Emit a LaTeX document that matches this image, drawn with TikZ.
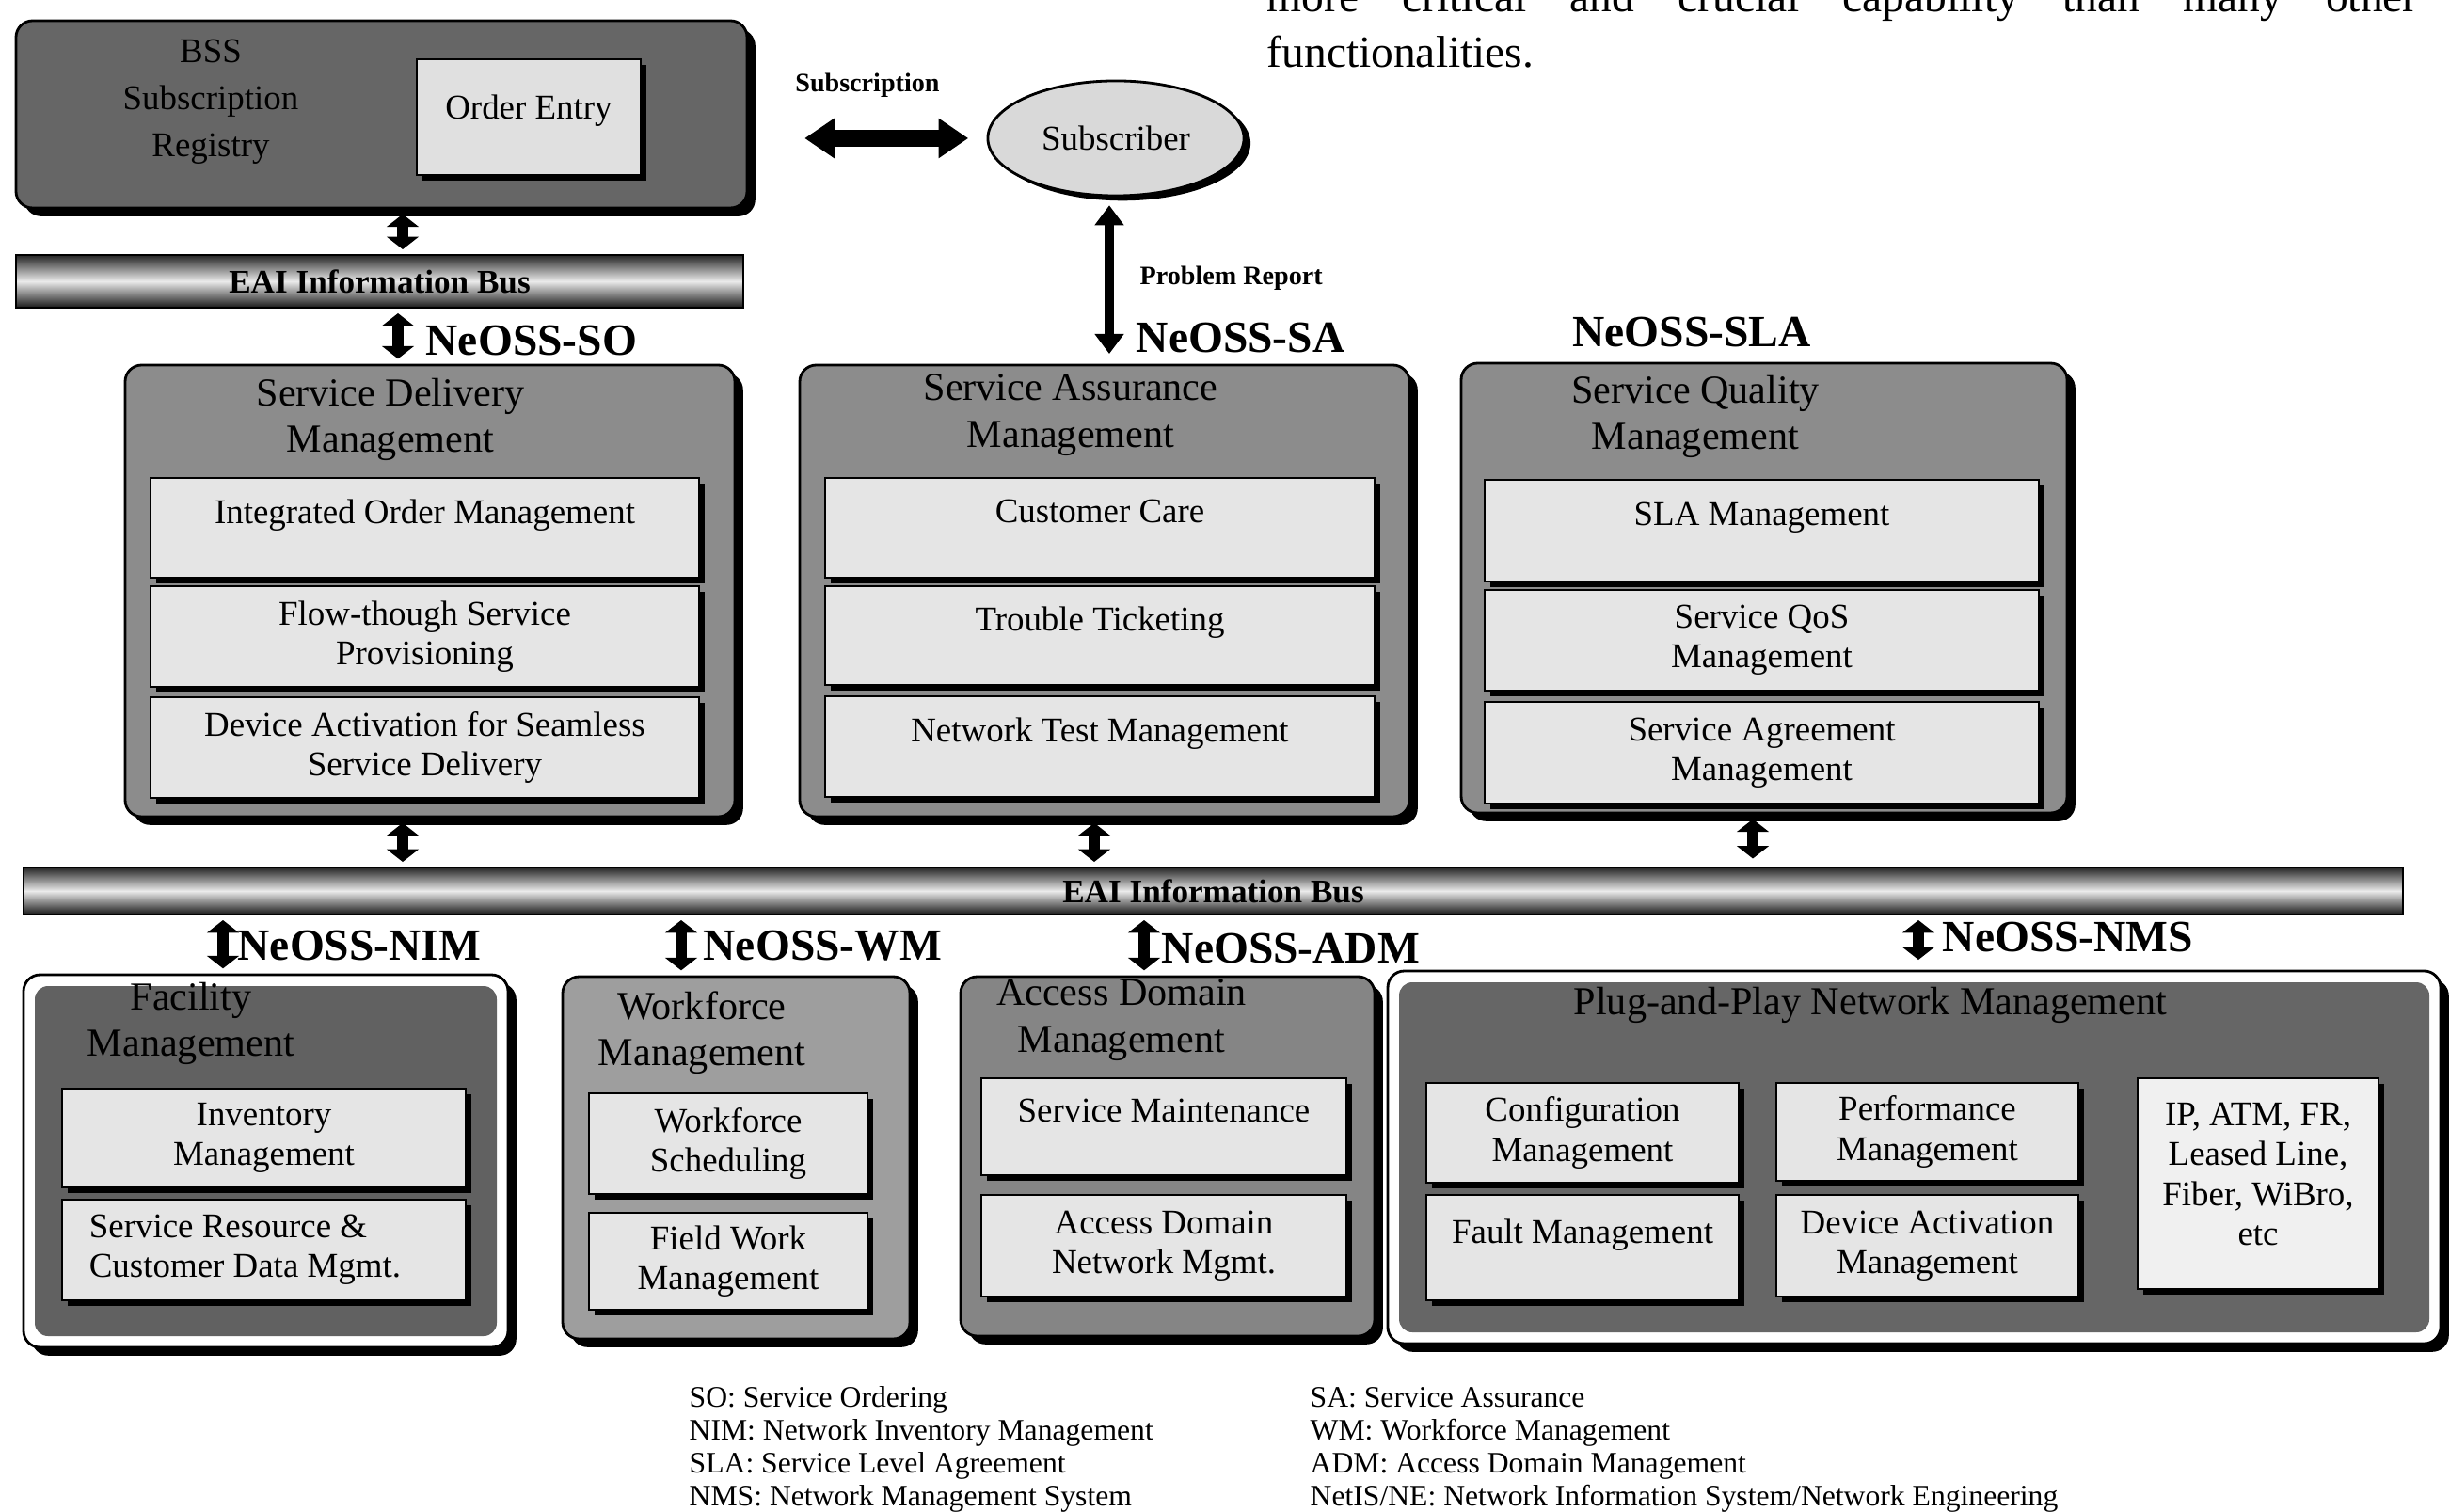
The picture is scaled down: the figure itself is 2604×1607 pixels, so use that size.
\documentclass[tikz,border=0pt]{standalone}
\usepackage{fontspec}
\setmainfont{Liberation Serif}
\usetikzlibrary{positioning,fit,shadows,shapes.geometric,arrows.meta}

\begin{document}
\begin{tikzpicture}[x=0.01cm, y=-0.01cm,
  panel/.style={draw=black, thick, rounded corners=5pt, inner sep=0pt,
    drop shadow={shadow xshift=2.5pt, shadow yshift=-2.5pt, fill=black, opacity=1}},
  subbox/.style={draw=black, fill=black!10, inner sep=0pt,
    drop shadow={shadow xshift=1.8pt, shadow yshift=-1.8pt, fill=black, opacity=1}},
  boxtext/.style={align=center, inner sep=0pt, font=\fontsize{10.5}{12}\selectfont},
  oneline/.style={text depth=10pt},
  paneltitle/.style={align=center, inner sep=0pt, font=\fontsize{12}{14}\selectfont},
  busbar/.style={draw=black, inner sep=0pt, top color=black!85, bottom color=black!90,
    middle color=black!8},
  buslabel/.style={inner sep=0pt, font=\bfseries\fontsize{10}{12}\selectfont},
  neoss/.style={anchor=west, inner sep=0pt, font=\bfseries\fontsize{13.5}{16}\selectfont},
  smalllabel/.style={inner sep=0pt, font=\bfseries\fontsize{8}{10}\selectfont},
  busarrow/.style={{Triangle[length=3.8pt,width=9.5pt]}-{Triangle[length=3.8pt,width=9.5pt]},
    line width=3.5pt, shorten <=1.5pt, shorten >=1.5pt},
  legendline/.style={anchor=base west, inner sep=0pt, font=\fontsize{9}{10}\selectfont}]

  \useasboundingbox (0,0) rectangle (2604,1607);

  % text of the page
  \node[anchor=base west, inner sep=0pt, font=\fontsize{13.5}{16.8}\selectfont] (para1) at (1346,13)
    {\makebox[12.22cm][s]{more critical and crucial capability than many other}};
  \node[anchor=base west, inner sep=0pt, font=\fontsize{13.5}{16.8}\selectfont] (para2) at (1346,72)
    {functionalities.};

  % BSS and subscriber
  \node[panel, fill=black!60, fit={(17,22) (794,221)}] (bss) {};
  \node[paneltitle, font=\fontsize{10.5}{14.2}\selectfont] (bsst) at (224,108) {BSS\\Subscription\\Registry};
  \node[subbox, fill=black!12, fit={(443,63) (681,186)},
    label={[boxtext, text depth=6pt]center:Order Entry}] (order) {};
  \node[ellipse, draw=black, thick, fill=black!15, minimum width=2.72cm, minimum height=1.22cm,
    font=\fontsize{10.5}{12}\selectfont,
    drop shadow={shadow xshift=2pt, shadow yshift=-1.5pt, fill=black, opacity=1}] (subscr) at (1186,147) {Subscriber};
  \node[busbar, fit={(17,271) (790,327)}, label={[buslabel]center:EAI Information Bus}] (bus1) {};

  % service delivery
  \node[panel, fill=black!45, fit={(133,388) (781,868)}] (sdm) {};
  \node[paneltitle] (sdmt) at (415,446) {Service Delivery\\Management};
  \node[subbox, fit={(160,508) (743,614)},
    label={[boxtext, oneline]center:Integrated Order Management}] (iom) {};
  \node[subbox, fit={(160,623) (743,730)},
    label={[boxtext]center:{Flow-though Service\\Provisioning}}] (fsp) {};
  \node[subbox, fit={(160,741) (743,848)},
    label={[boxtext]center:{Device Activation for Seamless\\Service Delivery}}] (das) {};

  % service assurance
  \node[panel, fill=black!45, fit={(850,388) (1498,868)}] (sam) {};
  \node[paneltitle] (samt) at (1138,441) {Service Assurance\\Management};
  \node[subbox, fit={(877,508) (1461,614)},
    label={[boxtext, oneline]center:Customer Care}] (cc) {};
  \node[subbox, fit={(877,623) (1461,728)},
    label={[boxtext, oneline]center:Trouble Ticketing}] (tt) {};
  \node[subbox, fit={(877,740) (1461,847)},
    label={[boxtext, oneline]center:Network Test Management}] (ntm) {};

  % service quality
  \node[panel, fill=black!45, fit={(1553,386) (2197,864)}] (sqm) {};
  \node[paneltitle] (sqmt) at (1802,443) {Service Quality\\Management};
  \node[subbox, fit={(1578,510) (2167,618)},
    label={[boxtext, oneline]center:SLA Management}] (slam) {};
  \node[subbox, fit={(1578,627) (2167,734)},
    label={[boxtext]center:{Service QoS\\Management}}] (qos) {};
  \node[subbox, fit={(1578,746) (2167,854)},
    label={[boxtext]center:{Service Agreement\\Management}}] (sagm) {};

  \node[busbar, fit={(25,922) (2554,972)}, label={[buslabel]center:EAI Information Bus}] (bus2) {};

  % facility
  \node[panel, fill=white, fit={(25,1036) (540,1432)}] (fm) {};
  \node[fill=black!62, rounded corners=4pt, inner sep=0pt, fit={(37,1048) (528,1420)}] (fmin) {};
  \node[paneltitle] (fmt) at (203,1088) {Facility\\Management};
  \node[subbox, fit={(66,1157) (495,1262)},
    label={[boxtext]center:{Inventory\\Management}}] (inv) {};
  \node[subbox, fit={(66,1275) (495,1382)},
    label={[boxtext, align=left, xshift=-0.2cm]center:{Service Resource \&\\Customer Data Mgmt.}}] (srd) {};

  % workforce
  \node[panel, fill=black!38, fit={(598,1038) (967,1423)}] (wfm) {};
  \node[paneltitle] (wfmt) at (746,1098) {Workforce\\Management};
  \node[subbox, fit={(626,1162) (922,1269)},
    label={[boxtext]center:{Workforce\\Scheduling}}] (wfs) {};
  \node[subbox, fit={(626,1289) (922,1392)},
    label={[boxtext]center:{Field Work\\Management}}] (fwm) {};

  % access domain
  \node[panel, fill=black!48, fit={(1021,1038) (1461,1420)}] (adm) {};
  \node[paneltitle] (admt) at (1192,1084) {Access Domain\\Management};
  \node[subbox, fit={(1043,1146) (1431,1249)},
    label={[boxtext, oneline]center:Service Maintenance}] (smn) {};
  \node[subbox, fit={(1043,1270) (1431,1378)},
    label={[boxtext]center:{Access Domain\\Network Mgmt.}}] (adn) {};

  % plug and play
  \node[panel, fill=white, fit={(1475,1032) (2594,1428)}] (pnp) {};
  \node[fill=black!60, rounded corners=4pt, inner sep=0pt, fit={(1487,1044) (2582,1416)}] (pnpin) {};
  \node[paneltitle] (pnpt) at (1988,1068) {Plug-and-Play Network Management};
  \node[subbox, fit={(1516,1151) (1848,1257)},
    label={[boxtext]center:{Configuration\\Management}}] (cfg) {};
  \node[subbox, fit={(1888,1151) (2209,1255)},
    label={[boxtext]center:{Performance\\Management}}] (perf) {};
  \node[subbox, fit={(1516,1270) (1848,1382)},
    label={[boxtext, oneline]center:Fault Management}] (fault) {};
  \node[subbox, fit={(1888,1270) (2209,1378)},
    label={[boxtext]center:{Device Activation\\Management}}] (dam) {};
  \node[subbox, fill=black!6, fit={(2272,1146) (2528,1370)},
    label={[boxtext, yshift=0.1cm]center:{IP, ATM, FR,\\Leased Line,\\Fiber, WiBro,\\etc}}] (ip) {};

  % arrows
  \coordinate (aBSS) at (428,0);
  \coordinate (aSO) at (423,0);
  \coordinate (aPR) at (1179,0);
  \coordinate (aSD) at (428,0);
  \coordinate (aSA) at (1163,0);
  \coordinate (aSQ) at (1863,0);
  \coordinate (aNIM) at (237,0);
  \coordinate (aWM) at (724,0);
  \coordinate (aADM) at (1216,0);
  \coordinate (aNMS) at (2039,0);

  \draw[busarrow] (bss.south -| aBSS) -- (bus1.north -| aBSS);
  \draw[busarrow] (bus1.south -| aSO) -- (sdm.north -| aSO);
  \draw[busarrow, line width=5pt, {Triangle[length=9pt,width=11.5pt]}-{Triangle[length=9pt,width=11.5pt]},
    shorten <=17pt, shorten >=5.5pt] (bss.east |- subscr.west) -- (subscr.west)
    node[midway, above=10pt, smalllabel] (subl) {Subscription};
  \draw[busarrow, line width=2.8pt, {Triangle[length=6pt,width=8.5pt]}-{Triangle[length=6pt,width=8.5pt]},
    shorten <=2.5pt, shorten >=3pt] (subscr.south -| aPR) -- (sam.north -| aPR);
  \draw[busarrow] (sdm.south -| aSD) -- (bus2.north -| aSD);
  \draw[busarrow] (sam.south -| aSA) -- (bus2.north -| aSA);
  \draw[busarrow, shorten >=2.5pt] (sqm.south -| aSQ) -- (bus2.north -| aSQ);
  \draw[busarrow] (bus2.south -| aNIM) -- (fm.north -| aNIM);
  \draw[busarrow] (bus2.south -| aWM) -- (wfm.north -| aWM);
  \draw[busarrow] (bus2.south -| aADM) -- (adm.north -| aADM);
  \draw[busarrow, shorten >=3pt] (bus2.south -| aNMS) -- (pnp.north -| aNMS);

  % labels
  \node[smalllabel, anchor=west] (prl) at (1211,296) {Problem Report};
  \node[neoss] (lso) at (452,362) {NeOSS-SO};
  \node[neoss] (lsa) at (1207,359) {NeOSS-SA};
  \node[neoss, anchor=center] (lsla) at (1798,353) {NeOSS-SLA};
  \node[neoss] (lnim) at (252,1005) {NeOSS-NIM};
  \node[neoss] (lwm) at (747,1005) {NeOSS-WM};
  \node[neoss] (ladm) at (1234,1008) {NeOSS-ADM};
  \node[neoss] (lnms) at (2064,996) {NeOSS-NMS};

  % legend
  \node[legendline] (lg1) at (732,1495) {SO: Service Ordering};
  \node[legendline] (lg2) at (732,1530) {NIM: Network Inventory Management};
  \node[legendline] (lg3) at (732,1565) {SLA: Service Level Agreement};
  \node[legendline] (lg4) at (732,1600) {NMS: Network Management System};
  \node[legendline] (lg5) at (1392,1495) {SA: Service Assurance};
  \node[legendline] (lg6) at (1392,1530) {WM: Workforce Management};
  \node[legendline] (lg7) at (1392,1565) {ADM: Access Domain Management};
  \node[legendline] (lg8) at (1392,1600) {NetIS/NE: Network Information System/Network Engineering};
\end{tikzpicture}
\end{document}
